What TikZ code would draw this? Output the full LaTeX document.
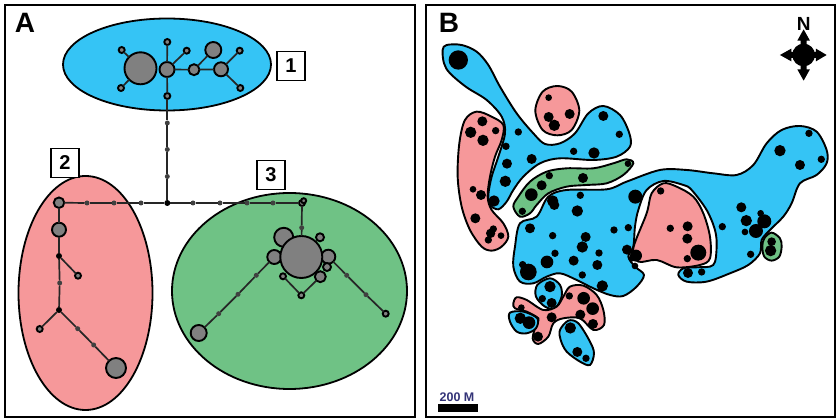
\documentclass[tikz,border=0pt]{standalone}
\usepackage{fontspec}
\setmainfont{Liberation Sans}
\usetikzlibrary{shapes.geometric}
\definecolor{regblue}{HTML}{35C4F5}
\definecolor{regred}{HTML}{F6989A}
\definecolor{reggreen}{HTML}{6FC285}
\definecolor{hapgray}{HTML}{808080}
\definecolor{scaleblue}{HTML}{333377}

\begin{document}
\begin{tikzpicture}[
  x=1pt, y=-1pt,
  frm/.style={draw, line width=2.8pt},
  grp/.style={ellipse, draw, line width=1.8pt, inner sep=0pt, outer sep=0pt},
  hap/.style={circle, draw, fill=hapgray, line width=1.9pt, inner sep=0pt, outer sep=0pt, minimum size=#1},
  mut/.style={circle, fill=black!75, inner sep=0pt, outer sep=0pt, minimum size=5pt},
  jct/.style={circle, fill=black, inner sep=0pt, outer sep=0pt, minimum size=6pt},
  tag/.style={draw, fill=white, line width=1.9pt, font=\bfseries\fontsize{20}{20}\selectfont, minimum width=28pt, minimum height=29pt, inner sep=0pt},
  pan/.style={font=\bfseries\fontsize{28}{28}\selectfont, inner sep=0pt},
  edg/.style={line width=1.7pt, black!85},
  blob/.style={draw, line width=1.9pt, smooth cycle, tension=0.55}]
\useasboundingbox (0,0) rectangle (836,419);
% panels
\node[frm, minimum width=410pt, minimum height=412pt, inner sep=0pt] (panA) at (210,211) {};
\node[frm, minimum width=409pt, minimum height=412pt, inner sep=0pt] (panB) at (630.5,211) {};
\node[pan] (labA) at (25,23) {A};
\node[pan] (labB) at (449,23) {B};
% groups
\node[grp, fill=regblue, minimum width=208pt, minimum height=92pt] (grp1) at (167,64.5) {};
\node[grp, fill=regred, minimum width=134pt, minimum height=234pt] (grp2) at (85.5,293) {};
\node[grp, fill=reggreen, minimum width=235pt, minimum height=196pt] (grp3) at (289.5,291) {};
\node[tag] (tag1) at (291,66) {1};
\node[tag] (tag2) at (65,163) {2};
\node[tag] (tag3) at (271,175) {3};
% group 1
\node[hap=32pt] (b1) at (140.5,68.3) {};
\node[hap=15pt] (b2) at (167,69.5) {};
\node[hap=6pt] (b3) at (121.7,50) {};
\node[hap=6pt] (b4) at (121,88) {};
\node[hap=6pt] (b5) at (167.3,42) {};
\node[hap=6pt] (b6) at (186.7,50.7) {};
\node[hap=11pt] (b7) at (194,69.7) {};
\node[hap=16pt] (b8) at (213.3,50) {};
\node[hap=14pt] (b9) at (221,69.3) {};
\node[hap=6pt] (b10) at (239.7,50.7) {};
\node[hap=6pt] (b11) at (240.3,88) {};
\node[hap=6pt] (b12) at (167.3,96) {};
\draw[edg] (b3) -- (b1);
\draw[edg] (b4) -- (b1);
\draw[edg] (b5) -- (b2);
\draw[edg] (b6) -- (b2);
\draw[edg] (b2) -- (b7);
\draw[edg] (b7) -- (b8);
\draw[edg] (b7) -- (b9);
\draw[edg] (b9) -- (b10);
\draw[edg] (b9) -- (b11);
\draw[edg] (b2) -- (b12);
% links between groups
\node[mut] (u1) at (167.3,123) {};
\node[mut] (u2) at (167.3,149.5) {};
\node[mut] (u3) at (167.3,176.5) {};
\node[jct] (hub) at (167.3,203) {};
\node[mut] (l1) at (141,203) {};
\node[mut] (l2) at (114,203) {};
\node[mut] (l3) at (87,203) {};
\node[mut] (e1) at (193,203) {};
\node[mut] (e2) at (220,203) {};
\node[mut] (e3) at (247,203) {};
\node[mut] (e4) at (273,203) {};
\draw[edg] (b12) -- (u1);
\draw[edg] (u1) -- (u2);
\draw[edg] (u2) -- (u3);
\draw[edg] (u3) -- (hub);
% group 2
\node[hap=10.5pt] (r1) at (59,202.7) {};
\node[hap=14pt] (r2) at (59,229.7) {};
\node[jct] (r3) at (59,256) {};
\node[hap=6pt] (r4) at (78,275.7) {};
\node[mut] (r5) at (59.7,283) {};
\node[jct] (r6) at (59,310) {};
\node[hap=6pt] (r7) at (39.7,329) {};
\node[mut] (r8) at (77.7,328.7) {};
\node[mut] (r9) at (93.7,345) {};
\node[hap=20pt] (r10) at (116,368) {};
\draw[edg] (hub) -- (l1);
\draw[edg] (l1) -- (l2);
\draw[edg] (l2) -- (l3);
\draw[edg] (l3) -- (r1);
\draw[edg] (r1) -- (r2);
\draw[edg] (r2) -- (r3);
\draw[edg] (r3) -- (r4);
\draw[edg] (r3) -- (r5);
\draw[edg] (r5) -- (r6);
\draw[edg] (r6) -- (r7);
\draw[edg] (r6) -- (r8);
\draw[edg] (r8) -- (r9);
\draw[edg] (r9) -- (r10);
% group 3
\node[hap=6pt] (g1) at (302,203) {};
\node[hap=5pt] (g2) at (303.7,200.7) {};
\node[mut] (g3) at (301.7,227.7) {};
\node[hap=19pt] (g4) at (283.7,237.3) {};
\node[hap=8pt] (g5) at (320,237.3) {};
\node[hap=14pt] (g6) at (274.3,257) {};
\node[hap=14pt] (g7) at (328.3,256.7) {};
\node[hap=42pt] (g8) at (301.3,257) {};
\node[hap=8pt] (g9) at (327,267) {};
\node[hap=11pt] (g10) at (320.3,276.7) {};
\node[hap=6pt] (g11) at (283,276.3) {};
\node[hap=6pt] (g12) at (301.3,295.3) {};
\node[hap=16pt] (g13) at (198.7,333) {};
\node[mut] (g14) at (256.3,275.3) {};
\node[mut] (g15) at (238,294.3) {};
\node[mut] (g16) at (218.7,313.7) {};
\node[hap=6pt] (g17) at (385.7,313.7) {};
\node[mut] (g18) at (346.7,275.3) {};
\node[mut] (g19) at (366,294.7) {};
\draw[edg] (hub) -- (e1);
\draw[edg] (e1) -- (e2);
\draw[edg] (e2) -- (e3);
\draw[edg] (e3) -- (e4);
\draw[edg] (e4) -- (g1);
\draw[edg] (g1) -- (g3);
\draw[edg] (g3) -- (g8);
\draw[edg] (g11) -- (g12);
\draw[edg] (g12) -- (g10);
\draw[edg] (g6) -- (g14);
\draw[edg] (g14) -- (g15);
\draw[edg] (g15) -- (g16);
\draw[edg] (g16) -- (g13);
\draw[edg] (g7) -- (g18);
\draw[edg] (g18) -- (g19);
\draw[edg] (g19) -- (g17);
% map, coordinates are 3x pixels from the panel's left
\begin{scope}[shift={(420,0)},x=0.3333pt,y=-0.3333pt]
  \draw[blob, fill=regblue] plot coordinates {(68,150) (80,135) (125,135) (170,155) (205,195) (240,260) (290,340) (340,400) (375,432) (420,430) (465,400) (505,340) (550,318) (600,345) (628,400) (630,440) (590,470) (520,480) (420,475) (360,490) (310,530) (280,570) (260,605) (235,628) (210,615) (205,585) (215,530) (235,470) (255,400) (245,350) (200,300) (140,262) (90,220) (72,190)};
  \draw[blob, fill=regred] plot coordinates {(135,360) (170,335) (215,350) (250,375) (245,420) (225,470) (210,530) (203,590) (215,630) (250,670) (265,710) (245,740) (215,752) (185,740) (150,690) (125,620) (113,530) (118,430)};
  \draw[blob, fill=regred] plot coordinates {(412,258) (455,275) (478,332) (455,390) (412,406) (368,390) (346,332) (368,275)};
  \draw[blob, fill=reggreen] plot coordinates {(640,490) (620,478) (580,490) (520,505) (440,505) (380,515) (330,545) (295,590) (280,620) (300,650) (330,640) (350,615) (385,580) (440,560) (500,555) (560,550) (610,525)};
  \draw[blob, fill=regblue] plot coordinates {(350,650) (385,590) (440,570) (560,568) (620,545) (720,510) (800,510) (880,520) (950,525) (1000,495) (1040,430) (1085,390) (1140,378) (1190,395) (1220,450) (1220,490) (1190,525) (1140,550) (1115,610) (1090,650) (1050,690) (1025,720) (1020,760) (985,795) (930,820) (860,845) (800,845) (775,825) (790,805) (830,802) (880,795) (890,740) (885,690) (860,630) (815,570) (790,555) (730,543) (680,570) (655,630) (645,680) (640,740) (625,770) (645,800) (672,825) (650,860) (610,888) (570,885) (520,865) (470,840) (420,820) (380,830) (340,850) (300,845) (280,800) (285,740) (300,670)};
  \draw[blob, fill=regred] plot coordinates {(640,745) (655,785) (710,780) (770,802) (840,795) (870,775) (870,710) (850,640) (820,590) (770,560) (730,550) (695,580) (680,640)};
  \draw[blob, fill=reggreen] plot coordinates {(1055,698) (1080,715) (1085,740) (1078,770) (1055,782) (1033,770) (1027,740) (1033,715)};
  \draw[blob, fill=regblue] plot coordinates {(390,835) (420,855) (425,890) (405,925) (375,920) (348,890) (352,855)};
  \draw[blob, fill=regred] plot coordinates {(290,892) (320,900) (370,930) (410,920) (430,890) (450,860) (490,857) (530,885) (550,930) (552,975) (520,990) (480,955) (430,955) (400,970) (385,1010) (355,1032) (338,1015) (350,970) (355,955) (320,935) (285,925) (280,910)};
  \draw[blob, fill=regblue] plot coordinates {(270,938) (310,935) (352,955) (348,985) (320,1000) (290,995) (270,965)};
  \draw[blob, fill=regblue] plot coordinates {(420,990) (445,962) (475,970) (510,1025) (522,1060) (510,1095) (480,1085) (440,1055) (422,1020)};
  % sampling sites
  \foreach \px/\py/\pr in {115/180/29,386/293/10,386/351/15,403/376/17,449/342/15,550/348/15,598/403/11,295/396/11,258/439/11,335/477/15,261/491/15,256/544/17,222/603/17,461/454/11,522/459/17,624/491/10,388/527/11,365/556/15,489/534/15,334/584/19,307/634/11,481/586/11,398/603/17,403/615/15,472/633/17,646/590/21,722/573/11,964/622/15,1080/452/17,1140/495/15,1167/400/11,1204/478/11,152/397/17,187/364/15,227/392/11,189/421/17,159/568/10,183/585/15,166/655/15,220/687/11,212/700/14,205/720/11,243/707/10,330/685/15,398/707/11,497/711/15,487/741/17,582/690/11,625/683/11,537/759/11,405/760/11,381/786/19,461/782/15,532/795/15,487/825/11,547/858/17,308/794/11,325/816/25,621/749/15,648/767/18,636/775/10,645/798/10,751/685/11,803/679/15,802/716/15,835/758/24,802/776/11,907/680/11,979/662/17,975/696/10,1022/640/10,1033/664/21,1008/693/21,992/763/11,804/819/15,845/816/11,1055/725/13,1052/752/17,390/860/17,367/896/11,395/909/15,304/923/10,448/888/11,491/895/19,518/926/19,481/944/15,519/972/15,395/952/15,301/955/17,327/968/19,354/1010/15,451/984/17,472/1056/15,498/1075/11}
    \fill (\px,\py) circle [radius=\pr*0.3333pt];
  % north arrow
  \fill (1151,165) circle [radius=34*0.3333pt];
  \fill (1151,88) -- (1170,122) -- (1160,122) -- (1160,140) -- (1142,140) -- (1142,122) -- (1132,122) -- cycle;
  \fill (1151,242) -- (1132,208) -- (1142,208) -- (1142,190) -- (1160,190) -- (1160,208) -- (1170,208) -- cycle;
  \fill (1080,165) -- (1114,146) -- (1114,156) -- (1130,156) -- (1130,174) -- (1114,174) -- (1114,184) -- cycle;
  \fill (1220,165) -- (1188,184) -- (1188,174) -- (1172,174) -- (1172,156) -- (1188,156) -- (1188,146) -- cycle;
\end{scope}
\node[font=\bfseries\fontsize{19}{19}\selectfont, inner sep=0pt] (north) at (803.7,24) {N};
% scale bar
\node[fill=black, minimum width=40pt, minimum height=8pt, inner sep=0pt, outer sep=0pt] (bar) at (457.7,408) {};
\node[font=\bfseries\fontsize{12.5}{12.5}\selectfont, text=scaleblue, inner sep=0pt] (barlab) at (457,397.5) {200 M};
\end{tikzpicture}
\end{document}
